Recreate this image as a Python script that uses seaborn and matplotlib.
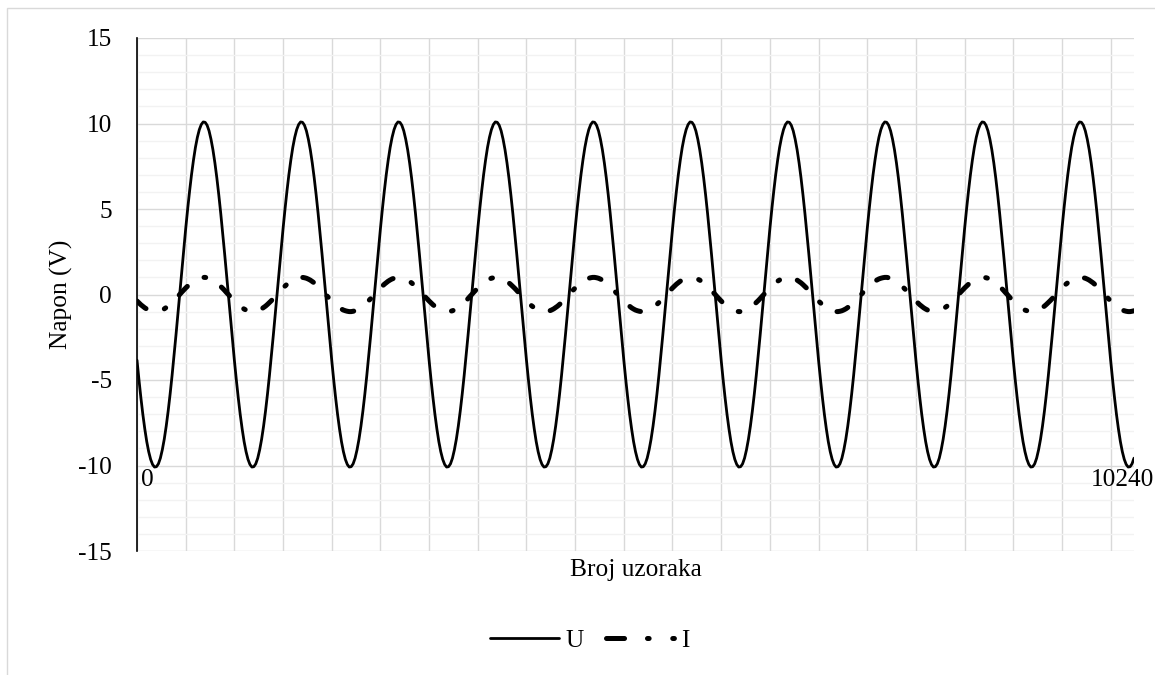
import numpy as np
import pandas as pd
import matplotlib
matplotlib.use("Agg")
import matplotlib.pyplot as plt
from matplotlib.lines import Line2D
from matplotlib.patches import Rectangle
from matplotlib.ticker import MultipleLocator
import seaborn as sns

# Sample index of every reading (one reading every 20 samples, 0 .. 10240)
samples = np.arange(0, 10241, 20)

# Voltage U (V), one line per 1000-sample period
u_values = [
    -3.84, -4.98, -6.04, -7.01, -7.86, -8.60, -9.19, -9.64, -9.94, -10.09, -10.07, -9.90, -9.57, -9.08, -8.46, -7.70, -6.82, -5.83, -4.75, -3.60, -2.39, -1.14, 0.13, 1.39, 2.63, 3.84, 4.98, 6.04, 7.01, 7.86, 8.60, 9.19, 9.64, 9.94, 10.09, 10.07, 9.90, 9.57, 9.08, 8.46, 7.70, 6.82, 5.83, 4.75, 3.60, 2.39, 1.14, -0.13, -1.39, -2.63,
    -3.84, -4.98, -6.04, -7.01, -7.86, -8.60, -9.19, -9.64, -9.94, -10.09, -10.07, -9.90, -9.57, -9.08, -8.46, -7.70, -6.82, -5.83, -4.75, -3.60, -2.39, -1.14, 0.13, 1.39, 2.63, 3.84, 4.98, 6.04, 7.01, 7.86, 8.60, 9.19, 9.64, 9.94, 10.09, 10.07, 9.90, 9.57, 9.08, 8.46, 7.70, 6.82, 5.83, 4.75, 3.60, 2.39, 1.14, -0.13, -1.39, -2.63,
    -3.84, -4.98, -6.04, -7.01, -7.86, -8.60, -9.19, -9.64, -9.94, -10.09, -10.07, -9.90, -9.57, -9.08, -8.46, -7.70, -6.82, -5.83, -4.75, -3.60, -2.39, -1.14, 0.13, 1.39, 2.63, 3.84, 4.98, 6.04, 7.01, 7.86, 8.60, 9.19, 9.64, 9.94, 10.09, 10.07, 9.90, 9.57, 9.08, 8.46, 7.70, 6.82, 5.83, 4.75, 3.60, 2.39, 1.14, -0.13, -1.39, -2.63,
    -3.84, -4.98, -6.04, -7.01, -7.86, -8.60, -9.19, -9.64, -9.94, -10.09, -10.07, -9.90, -9.57, -9.08, -8.46, -7.70, -6.82, -5.83, -4.75, -3.60, -2.39, -1.14, 0.13, 1.39, 2.63, 3.84, 4.98, 6.04, 7.01, 7.86, 8.60, 9.19, 9.64, 9.94, 10.09, 10.07, 9.90, 9.57, 9.08, 8.46, 7.70, 6.82, 5.83, 4.75, 3.60, 2.39, 1.14, -0.13, -1.39, -2.63,
    -3.84, -4.98, -6.04, -7.01, -7.86, -8.60, -9.19, -9.64, -9.94, -10.09, -10.07, -9.90, -9.57, -9.08, -8.46, -7.70, -6.82, -5.83, -4.75, -3.60, -2.39, -1.14, 0.13, 1.39, 2.63, 3.84, 4.98, 6.04, 7.01, 7.86, 8.60, 9.19, 9.64, 9.94, 10.09, 10.07, 9.90, 9.57, 9.08, 8.46, 7.70, 6.82, 5.83, 4.75, 3.60, 2.39, 1.14, -0.13, -1.39, -2.63,
    -3.84, -4.98, -6.04, -7.01, -7.86, -8.60, -9.19, -9.64, -9.94, -10.09, -10.07, -9.90, -9.57, -9.08, -8.46, -7.70, -6.82, -5.83, -4.75, -3.60, -2.39, -1.14, 0.13, 1.39, 2.63, 3.84, 4.98, 6.04, 7.01, 7.86, 8.60, 9.19, 9.64, 9.94, 10.09, 10.07, 9.90, 9.57, 9.08, 8.46, 7.70, 6.82, 5.83, 4.75, 3.60, 2.39, 1.14, -0.13, -1.39, -2.63,
    -3.84, -4.98, -6.04, -7.01, -7.86, -8.60, -9.19, -9.64, -9.94, -10.09, -10.07, -9.90, -9.57, -9.08, -8.46, -7.70, -6.82, -5.83, -4.75, -3.60, -2.39, -1.14, 0.13, 1.39, 2.63, 3.84, 4.98, 6.04, 7.01, 7.86, 8.60, 9.19, 9.64, 9.94, 10.09, 10.07, 9.90, 9.57, 9.08, 8.46, 7.70, 6.82, 5.83, 4.75, 3.60, 2.39, 1.14, -0.13, -1.39, -2.63,
    -3.84, -4.98, -6.04, -7.01, -7.86, -8.60, -9.19, -9.64, -9.94, -10.09, -10.07, -9.90, -9.57, -9.08, -8.46, -7.70, -6.82, -5.83, -4.75, -3.60, -2.39, -1.14, 0.13, 1.39, 2.63, 3.84, 4.98, 6.04, 7.01, 7.86, 8.60, 9.19, 9.64, 9.94, 10.09, 10.07, 9.90, 9.57, 9.08, 8.46, 7.70, 6.82, 5.83, 4.75, 3.60, 2.39, 1.14, -0.13, -1.39, -2.63,
    -3.84, -4.98, -6.04, -7.01, -7.86, -8.60, -9.19, -9.64, -9.94, -10.09, -10.07, -9.90, -9.57, -9.08, -8.46, -7.70, -6.82, -5.83, -4.75, -3.60, -2.39, -1.14, 0.13, 1.39, 2.63, 3.84, 4.98, 6.04, 7.01, 7.86, 8.60, 9.19, 9.64, 9.94, 10.09, 10.07, 9.90, 9.57, 9.08, 8.46, 7.70, 6.82, 5.83, 4.75, 3.60, 2.39, 1.14, -0.13, -1.39, -2.63,
    -3.84, -4.98, -6.04, -7.01, -7.86, -8.60, -9.19, -9.64, -9.94, -10.09, -10.07, -9.90, -9.57, -9.08, -8.46, -7.70, -6.82, -5.83, -4.75, -3.60, -2.39, -1.14, 0.13, 1.39, 2.63, 3.84, 4.98, 6.04, 7.01, 7.86, 8.60, 9.19, 9.64, 9.94, 10.09, 10.07, 9.90, 9.57, 9.08, 8.46, 7.70, 6.82, 5.83, 4.75, 3.60, 2.39, 1.14, -0.13, -1.39, -2.63,
    -3.84, -4.98, -6.04, -7.01, -7.86, -8.60, -9.19, -9.64, -9.94, -10.09, -10.07, -9.90, -9.57,
]

# Current signal I, same sampling
i_values = [
    -0.38, -0.49, -0.60, -0.69, -0.78, -0.85, -0.91, -0.95, -0.98, -1.00, -1.00, -0.98, -0.95, -0.90, -0.84, -0.76, -0.68, -0.58, -0.47, -0.36, -0.24, -0.11, 0.01, 0.14, 0.26, 0.38, 0.49, 0.60, 0.69, 0.78, 0.85, 0.91, 0.95, 0.98, 1.00, 1.00, 0.98, 0.95, 0.90, 0.84, 0.76, 0.68, 0.58, 0.47, 0.36, 0.24, 0.11, -0.01, -0.14, -0.26,
    -0.38, -0.49, -0.60, -0.69, -0.78, -0.85, -0.91, -0.95, -0.98, -1.00, -1.00, -0.98, -0.95, -0.90, -0.84, -0.76, -0.68, -0.58, -0.47, -0.36, -0.24, -0.11, 0.01, 0.14, 0.26, 0.38, 0.49, 0.60, 0.69, 0.78, 0.85, 0.91, 0.95, 0.98, 1.00, 1.00, 0.98, 0.95, 0.90, 0.84, 0.76, 0.68, 0.58, 0.47, 0.36, 0.24, 0.11, -0.01, -0.14, -0.26,
    -0.38, -0.49, -0.60, -0.69, -0.78, -0.85, -0.91, -0.95, -0.98, -1.00, -1.00, -0.98, -0.95, -0.90, -0.84, -0.76, -0.68, -0.58, -0.47, -0.36, -0.24, -0.11, 0.01, 0.14, 0.26, 0.38, 0.49, 0.60, 0.69, 0.78, 0.85, 0.91, 0.95, 0.98, 1.00, 1.00, 0.98, 0.95, 0.90, 0.84, 0.76, 0.68, 0.58, 0.47, 0.36, 0.24, 0.11, -0.01, -0.14, -0.26,
    -0.38, -0.49, -0.60, -0.69, -0.78, -0.85, -0.91, -0.95, -0.98, -1.00, -1.00, -0.98, -0.95, -0.90, -0.84, -0.76, -0.68, -0.58, -0.47, -0.36, -0.24, -0.11, 0.01, 0.14, 0.26, 0.38, 0.49, 0.60, 0.69, 0.78, 0.85, 0.91, 0.95, 0.98, 1.00, 1.00, 0.98, 0.95, 0.90, 0.84, 0.76, 0.68, 0.58, 0.47, 0.36, 0.24, 0.11, -0.01, -0.14, -0.26,
    -0.38, -0.49, -0.60, -0.69, -0.78, -0.85, -0.91, -0.95, -0.98, -1.00, -1.00, -0.98, -0.95, -0.90, -0.84, -0.76, -0.68, -0.58, -0.47, -0.36, -0.24, -0.11, 0.01, 0.14, 0.26, 0.38, 0.49, 0.60, 0.69, 0.78, 0.85, 0.91, 0.95, 0.98, 1.00, 1.00, 0.98, 0.95, 0.90, 0.84, 0.76, 0.68, 0.58, 0.47, 0.36, 0.24, 0.11, -0.01, -0.14, -0.26,
    -0.38, -0.49, -0.60, -0.69, -0.78, -0.85, -0.91, -0.95, -0.98, -1.00, -1.00, -0.98, -0.95, -0.90, -0.84, -0.76, -0.68, -0.58, -0.47, -0.36, -0.24, -0.11, 0.01, 0.14, 0.26, 0.38, 0.49, 0.60, 0.69, 0.78, 0.85, 0.91, 0.95, 0.98, 1.00, 1.00, 0.98, 0.95, 0.90, 0.84, 0.76, 0.68, 0.58, 0.47, 0.36, 0.24, 0.11, -0.01, -0.14, -0.26,
    -0.38, -0.49, -0.60, -0.69, -0.78, -0.85, -0.91, -0.95, -0.98, -1.00, -1.00, -0.98, -0.95, -0.90, -0.84, -0.76, -0.68, -0.58, -0.47, -0.36, -0.24, -0.11, 0.01, 0.14, 0.26, 0.38, 0.49, 0.60, 0.69, 0.78, 0.85, 0.91, 0.95, 0.98, 1.00, 1.00, 0.98, 0.95, 0.90, 0.84, 0.76, 0.68, 0.58, 0.47, 0.36, 0.24, 0.11, -0.01, -0.14, -0.26,
    -0.38, -0.49, -0.60, -0.69, -0.78, -0.85, -0.91, -0.95, -0.98, -1.00, -1.00, -0.98, -0.95, -0.90, -0.84, -0.76, -0.68, -0.58, -0.47, -0.36, -0.24, -0.11, 0.01, 0.14, 0.26, 0.38, 0.49, 0.60, 0.69, 0.78, 0.85, 0.91, 0.95, 0.98, 1.00, 1.00, 0.98, 0.95, 0.90, 0.84, 0.76, 0.68, 0.58, 0.47, 0.36, 0.24, 0.11, -0.01, -0.14, -0.26,
    -0.38, -0.49, -0.60, -0.69, -0.78, -0.85, -0.91, -0.95, -0.98, -1.00, -1.00, -0.98, -0.95, -0.90, -0.84, -0.76, -0.68, -0.58, -0.47, -0.36, -0.24, -0.11, 0.01, 0.14, 0.26, 0.38, 0.49, 0.60, 0.69, 0.78, 0.85, 0.91, 0.95, 0.98, 1.00, 1.00, 0.98, 0.95, 0.90, 0.84, 0.76, 0.68, 0.58, 0.47, 0.36, 0.24, 0.11, -0.01, -0.14, -0.26,
    -0.38, -0.49, -0.60, -0.69, -0.78, -0.85, -0.91, -0.95, -0.98, -1.00, -1.00, -0.98, -0.95, -0.90, -0.84, -0.76, -0.68, -0.58, -0.47, -0.36, -0.24, -0.11, 0.01, 0.14, 0.26, 0.38, 0.49, 0.60, 0.69, 0.78, 0.85, 0.91, 0.95, 0.98, 1.00, 1.00, 0.98, 0.95, 0.90, 0.84, 0.76, 0.68, 0.58, 0.47, 0.36, 0.24, 0.11, -0.01, -0.14, -0.26,
    -0.38, -0.49, -0.60, -0.69, -0.78, -0.85, -0.91, -0.95, -0.98, -1.00, -1.00, -0.98, -0.95,
]

series_names = ["U", "I"]
x_end_labels = ["0", "10240"]
x_end_label_pos = [110, 10117]
y_ticks = [-15, -10, -5, 0, 5, 10, 15]

sns.set_theme(style="white")
plt.rcParams["font.family"] = ["Liberation Serif", "DejaVu Serif"]
plt.rcParams["axes.unicode_minus"] = False
plt.rcParams["text.color"] = "black"
plt.rcParams["axes.labelcolor"] = "black"
plt.rcParams["xtick.color"] = "black"
plt.rcParams["ytick.color"] = "black"

FS = 18.3
LW_U = 2.0
LW_I = 3.6

fig = plt.figure(figsize=(11.55, 6.75), dpi=100)
fig.patch.set_facecolor("white")
fig.patches.append(Rectangle((7 / 1155, -0.1), 1.2, 1.1 - 8 / 675,
                             transform=fig.transFigure, fill=False,
                             edgecolor="#d9d9d9", linewidth=1.0))

ax = fig.add_axes([137 / 1155, 1 - 551 / 675, (1134 - 137) / 1155, (551 - 38) / 675])

df = pd.DataFrame({"sample": samples, "U": u_values, "I": i_values})

sns.lineplot(data=df, x="sample", y="U", ax=ax, color="black", linewidth=LW_U)
sns.lineplot(data=df, x="sample", y="I", ax=ax, color="black", linewidth=LW_I)

u_line, i_line = ax.lines[0], ax.lines[1]
i_line.set_dashes([8.5 / LW_I, 14.0 / LW_I, 1.2 / LW_I, 13.5 / LW_I])
i_line.set_dash_capstyle("round")
i_line.set_solid_capstyle("round")

ax.set_xlim(0, 10240)
ax.set_ylim(-15, 15)
ax.set_xticks(np.arange(0, 10241, 500))
ax.set_yticks(y_ticks)
ax.yaxis.set_minor_locator(MultipleLocator(1))
ax.tick_params(axis="x", which="both", length=0, labelbottom=False)
ax.tick_params(axis="y", which="both", length=0, pad=18, labelsize=FS)

ax.grid(True, which="major", axis="both", color="#d9d9d9", linewidth=1.0)
ax.grid(True, which="minor", axis="y", color="#f2f2f2", linewidth=1.0)
ax.set_axisbelow(True)

for side in ["top", "right", "bottom"]:
    ax.spines[side].set_visible(False)
ax.spines["left"].set_color("black")
ax.spines["left"].set_linewidth(1.2)
ax.spines["left"].set_zorder(3)

ax.set_xlabel("Broj uzoraka", fontsize=FS)
ax.xaxis.set_label_coords(0.5, -0.0156)
ax.set_ylabel("Napon (V)", fontsize=FS)
ax.yaxis.set_label_coords(-0.0637, 0.5)

for lab, pos in zip(x_end_labels, x_end_label_pos):
    ax.text(pos, -11.2, lab, ha="center", va="baseline", fontsize=FS)

# Legend proxies: solid U, long dash + two dots for I
h_u = Line2D([], [], color="black", linewidth=LW_U)
h_i = Line2D([], [], color="black", linewidth=LW_I)
h_i.set_dashes([13.0 / LW_I, 16.5 / LW_I, 1.2 / LW_I, 17.0 / LW_I, 1.2 / LW_I, 30.0 / LW_I])
h_i.set_dash_capstyle("round")
fig.legend([h_u, h_i], series_names, loc="center",
           bbox_to_anchor=(590 / 1155, 1 - 641 / 675), ncol=2, frameon=False,
           fontsize=FS, handlelength=2.7, handletextpad=0.27, columnspacing=0.86)

fig.savefig("out.png", dpi=100, facecolor="white")
